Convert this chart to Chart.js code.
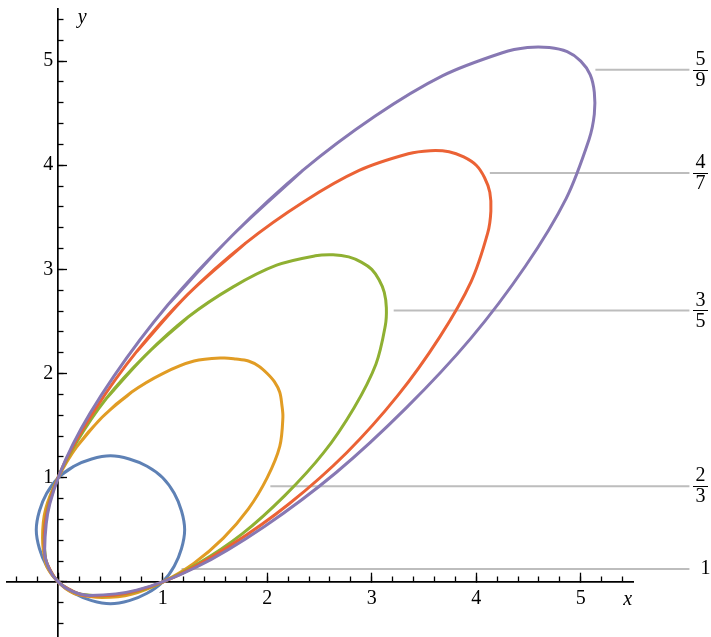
<!DOCTYPE html>
<html>
<head>
<meta charset="utf-8">
<script src="https://cdn.jsdelivr.net/npm/chart.js@4.4.1/dist/chart.umd.min.js"></script>
<style>
  html, body { margin: 0; padding: 0; background: #fff; }
  canvas { display: block; }
</style>
</head>
<body>
<canvas id="myChart" width="711" height="637"></canvas>
<script>
// closed curves, points, going round from the upper side
const curve1 = [[0,1],[-0.11,0.85],[-0.18,0.68],[-0.21,0.50],[-0.18,0.32],[-0.11,0.15],[0,0],
  [0.15,-0.11],[0.32,-0.18],[0.50,-0.21],[0.68,-0.18],[0.85,-0.11],[1,0],[1.11,0.15],[1.18,0.32],
  [1.21,0.50],[1.18,0.68],[1.11,0.85],[1,1],[0.85,1.11],[0.68,1.18],[0.50,1.21],[0.32,1.18],[0.15,1.11],[0,1]];

const curve2_3 = [[0.42,1.58],[0.18,1.30],[0.00,1.00],[-0.12,0.70],[-0.15,0.42],[-0.12,0.18],[-0.07,0.08],[0,0],
  [0.08,-0.07],[0.18,-0.12],[0.42,-0.15],[0.70,-0.12],[1.00,0.00],[1.30,0.18],[1.58,0.42],[1.82,0.70],
  [2.00,1.00],[2.12,1.30],[2.15,1.58],[2.14,1.70],[2.12,1.82],[2.07,1.92],[2,2],[1.92,2.07],[1.82,2.12],
  [1.70,2.14],[1.58,2.15],[1.30,2.12],[1.00,2.00],[0.70,1.82],[0.42,1.58]];

const curve3_5 = [[0.83,2.17],[0.46,1.76],[0.17,1.33],[-0.04,0.91],[-0.13,0.54],[-0.12,0.22],[-0.07,0.10],[0,0],
  [0.10,-0.07],[0.22,-0.12],[0.54,-0.13],[0.91,-0.04],[1.33,0.17],[1.76,0.46],[2.17,0.83],[2.54,1.24],
  [2.83,1.67],[3.04,2.09],[3.13,2.46],[3.14,2.63],[3.12,2.78],[3.07,2.90],[3,3],[2.90,3.07],[2.78,3.12],
  [2.63,3.14],[2.46,3.13],[2.09,3.04],[1.67,2.83],[1.24,2.54],[0.83,2.17]];

const curve4_7 = [[1.24,2.76],[0.75,2.21],[0.35,1.65],[0.05,1.12],[-0.11,0.65],[-0.13,0.26],[-0.08,0.12],[0,0],
  [0.12,-0.08],[0.26,-0.13],[0.65,-0.11],[1.12,0.05],[1.65,0.35],[2.21,0.75],[2.76,1.24],[3.25,1.79],
  [3.65,2.35],[3.95,2.88],[4.11,3.35],[4.14,3.56],[4.13,3.74],[4.08,3.88],[4,4],[3.88,4.08],[3.74,4.13],
  [3.56,4.14],[3.35,4.11],[2.88,3.95],[2.35,3.65],[1.79,3.25],[1.24,2.76]];

const curve5_9 = [[1.67,3.33],[1.05,2.66],[0.53,1.97],[0.14,1.32],[-0.08,0.75],[-0.13,0.30],[-0.09,0.13],[0,0],
  [0.13,-0.09],[0.30,-0.13],[0.75,-0.08],[1.32,0.14],[1.97,0.53],[2.66,1.05],[3.33,1.67],[3.95,2.34],
  [4.47,3.03],[4.86,3.68],[5.08,4.25],[5.13,4.49],[5.13,4.70],[5.09,4.87],[5,5],[4.87,5.09],[4.70,5.13],
  [4.49,5.13],[4.25,5.08],[3.68,4.86],[3.03,4.47],[2.34,3.95],[1.67,3.33]];

// callout labels on the right
const labelNum = ['1', '2', '3', '4', '5'];
const labelDen = ['', '3', '5', '7', '9'];
const labelY = [0.123, 0.918, 2.606, 3.926, 4.917];
const labelStartX = [1.18, 2.03, 3.21, 4.13, 5.14];
const labelEndX = 6.04;

const curves = [curve1, curve2_3, curve3_5, curve4_7, curve5_9];
const colors = ['#5E81B5', '#E19C24', '#8FB032', '#EB6235', '#8778B3'];

const serif = "'Liberation Serif', 'Times New Roman', serif";

// loop: repeat one point on each side so the spline has no corner where it closes
function loopXY(pts) {
	const n = pts.length;
	const ring = [pts[n - 2]].concat(pts, [pts[1]]);
	return ring.map(function(p) { return {x: p[0], y: p[1]}; });
}

const datasets = [];
curves.forEach(function(c, i) {
	datasets.push({
		data: loopXY(c),
		borderColor: colors[i],
		borderWidth: 3,
		pointRadius: 0,
		tension: 0.33,
		fill: false,
		order: 5 - i
	});
});
labelY.forEach(function(y, i) {
	datasets.push({
		data: [{x: labelStartX[i], y: y}, {x: labelEndX, y: y}],
		borderColor: '#bdbdbd',
		borderWidth: 2,
		pointRadius: 0,
		tension: 0,
		clip: false,
		order: 10
	});
});

// axis names and fraction labels
const textPlugin = {
	id: 'texts',
	afterDraw: function(chart) {
		const ctx = chart.ctx;
		const xs = chart.scales.x, ys = chart.scales.y;
		ctx.save();
		ctx.fillStyle = '#000';
		ctx.textBaseline = 'middle';
		ctx.textAlign = 'center';
		ctx.font = 'italic 20px ' + serif;
		ctx.fillText('x', xs.getPixelForValue(5.45), ys.getPixelForValue(0) + 18);
		ctx.fillText('y', xs.getPixelForValue(0) + 24, ys.getPixelForValue(5.42));

		ctx.font = '20px ' + serif;
		labelY.forEach(function(v, i) {
			const py = ys.getPixelForValue(v);
			const cx = 700.5;
			if (labelDen[i] === '') {
				ctx.fillText(labelNum[i], cx + 5, py);
				return;
			}
			ctx.fillText(labelNum[i], cx, py - 10);
			ctx.fillText(labelDen[i], cx, py + 11);
			ctx.strokeStyle = '#000';
			ctx.lineWidth = 1;
			ctx.beginPath();
			ctx.moveTo(cx - 7.5, Math.round(py) + 0.5);
			ctx.lineTo(cx + 7.5, Math.round(py) + 0.5);
			ctx.stroke();
		});
		ctx.restore();
	}
};

function axis(dir, step, len, labels) {
	const o = {
		type: 'linear',
		min: dir === 'x' ? -0.49 : -0.52,
		max: 5.5,
		position: dir === 'x' ? {y: 0} : {x: 0},
		grid: {
			drawOnChartArea: false,
			drawTicks: true,
			tickLength: len,
			tickColor: '#000',
			tickWidth: 1.3
		},
		border: {display: labels, color: '#000', width: 1.7},
		ticks: {
			stepSize: step,
			includeBounds: false,
			display: labels,
			color: '#000',
			// a tiny line height on y keeps the labels from padding the chart area
			font: {family: serif, size: 20, lineHeight: dir === 'x' ? 1.2 : 0.1},
			padding: dir === 'x' ? 15 : 0,
			maxRotation: 0,
			autoSkip: false,
			callback: function(v) {
				if (v === 0) return '';
				return dir === 'x' ? String(v) : String(v) + ' ';
			}
		}
	};
	return o;
}

const ctx = document.getElementById('myChart');
const chart = new Chart(ctx, {
	type: 'line',
	data: {datasets: datasets},
	options: {
		responsive: false,
		animation: false,
		layout: {padding: {left: 7, right: 78, top: 9, bottom: 0}},
		plugins: {legend: {display: false}, tooltip: {enabled: false}, title: {display: false}},
		scales: {
			x: axis('x', 1, -10, true),
			y: axis('y', 1, -10, true),
			x2: axis('x', 0.2, -5.5, false),
			y2: axis('y', 0.2, -5.5, false)
		}
	},
	plugins: [textPlugin]
});
</script>
</body>
</html>
